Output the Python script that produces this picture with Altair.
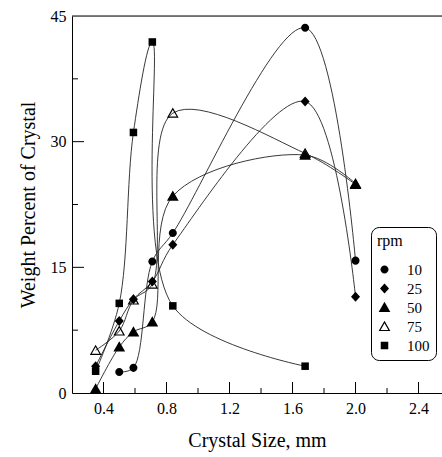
import altair as alt
import pandas as pd

rpm_levels = ["10", "25", "50", "75", "100"]
CIRCLE = "M-0.96,0A0.96,0.96,0,1,1,0.96,0A0.96,0.96,0,1,1,-0.96,0Z"
DIAMOND = "M0,-1.2L1.08,0L0,1.2L-1.08,0Z"
TRIANGLE = "M0,-1.35L1.4,1.1L-1.4,1.1Z"
OPEN_TRIANGLE = "M0,-1.35L1.4,1.1L-1.4,1.1ZM0,-0.79L-0.92,0.82L0.92,0.82Z"
SQUARE = "M-0.9,-0.9L0.9,-0.9L0.9,0.9L-0.9,0.9Z"
shapes = [CIRCLE, DIAMOND, TRIANGLE, OPEN_TRIANGLE, SQUARE]

x_10 = [0.50, 0.59, 0.71, 0.84, 1.68, 2.00]
y_10 = [2.5, 3.0, 15.7, 19.1, 43.6, 15.8]
x_25 = [0.35, 0.50, 0.59, 0.71, 0.84, 1.68, 2.00]
y_25 = [3.2, 8.6, 11.2, 13.3, 17.7, 34.8, 11.5]
x_50 = [0.35, 0.50, 0.59, 0.71, 0.84, 1.68, 2.00]
y_50 = [0.5, 5.5, 7.3, 8.5, 23.5, 28.4, 25.0]
x_75 = [0.35, 0.50, 0.59, 0.71, 0.84, 1.68, 2.00]
y_75 = [5.1, 7.4, 11.1, 13.0, 33.4, 28.6, 24.9]
x_100 = [0.35, 0.50, 0.59, 0.71, 0.84, 1.68]
y_100 = [2.6, 10.7, 31.1, 41.9, 10.4, 3.2]

x_major = [0.4, 0.8, 1.2, 1.6, 2.0, 2.4]
x_minor = [0.6, 1.0, 1.4, 1.8, 2.2]
y_labels = [0, 15, 30, 45]
y_major = [15, 30]
y_minor = [7.5, 22.5, 37.5]

series = [("75", x_75, y_75), ("10", x_10, y_10), ("25", x_25, y_25),
          ("50", x_50, y_50), ("100", x_100, y_100)]
rows = []
for name, xs, ys in series:
    for i, (xv, yv) in enumerate(zip(xs, ys)):
        rows.append({"rpm": name, "size": xv, "pct": yv, "order": i})
df = pd.DataFrame(rows)

FONT = "Liberation Serif"
W, H = 370, 377
xscale = alt.Scale(domain=[0.2, 2.549], nice=False, zero=False)
yscale = alt.Scale(domain=[0, 45], nice=False, zero=False)

xaxis = alt.Axis(values=x_major, ticks=False, format=".1f", title="Crystal Size, mm",
                 labelFont=FONT, labelFontSize=16, labelPadding=7, labelColor="black",
                 titleFont=FONT, titleFontSize=20, titleFontWeight="normal",
                 titlePadding=14, titleColor="black",
                 domainColor="black", domainWidth=1, grid=False)
yaxis = alt.Axis(values=y_labels, ticks=False, title="Weight Percent of Crystal",
                 labelFont=FONT, labelFontSize=16, labelPadding=6, labelColor="black",
                 titleFont=FONT, titleFontSize=20, titleFontWeight="normal",
                 titlePadding=12, titleColor="black",
                 domainColor="black", domainWidth=1, grid=False)

leg = alt.Legend(title="rpm", orient="none", legendX=299, legendY=211,
                 strokeColor="black", cornerRadius=8, padding=6, fillColor="white",
                 titleFont=FONT, titleFontSize=16, titleFontWeight="normal", titleColor="black",
                 titlePadding=13, labelFont=FONT, labelFontSize=15, labelColor="black",
                 labelOffset=15, symbolSize=70, symbolFillColor="black",
                 symbolStrokeWidth=0, rowPadding=3)

base = alt.Chart(df)

lines = base.mark_line(interpolate="catmull-rom", color="#222", strokeWidth=0.9).encode(
    x=alt.X("size:Q", scale=xscale, axis=xaxis),
    y=alt.Y("pct:Q", scale=yscale, axis=yaxis),
    detail="rpm:N",
    order="order:Q",
)

points = base.mark_point(filled=True, color="black", strokeWidth=0, opacity=1, size=70).encode(
    x=alt.X("size:Q", scale=xscale, axis=xaxis),
    y=alt.Y("pct:Q", scale=yscale, axis=yaxis),
    shape=alt.Shape("rpm:N", scale=alt.Scale(domain=rpm_levels, range=shapes), legend=leg),
)

top_rule = alt.Chart(pd.DataFrame({"a": [0]})).mark_rule(color="black", strokeWidth=1).encode(
    x=alt.value(0), x2=alt.value(W + 5), y=alt.value(0))

xmaj = alt.Chart(pd.DataFrame({"size": x_major})).mark_rule(color="black", strokeWidth=1).encode(
    x=alt.X("size:Q", scale=xscale, axis=xaxis), y=alt.value(H), y2=alt.value(H - 11))
xmin = alt.Chart(pd.DataFrame({"size": x_minor})).mark_rule(color="black", strokeWidth=1).encode(
    x=alt.X("size:Q", scale=xscale, axis=xaxis), y=alt.value(H), y2=alt.value(H - 5))
ymaj = alt.Chart(pd.DataFrame({"pct": y_major})).mark_rule(color="black", strokeWidth=1).encode(
    y=alt.Y("pct:Q", scale=yscale, axis=yaxis), x=alt.value(0), x2=alt.value(12))
ymin = alt.Chart(pd.DataFrame({"pct": y_minor})).mark_rule(color="black", strokeWidth=1).encode(
    y=alt.Y("pct:Q", scale=yscale, axis=yaxis), x=alt.value(0), x2=alt.value(6))

chart = alt.layer(lines, points, top_rule, xmaj, xmin, ymaj, ymin).properties(
    width=W, height=H,
    autosize=alt.AutoSizeParams(type="none"),
    padding={"left": 72, "top": 16, "right": 0, "bottom": 64},
).configure_view(stroke=None).configure(background="white")

chart.save("out.html", embed_options={"renderer": "svg", "actions": False})
